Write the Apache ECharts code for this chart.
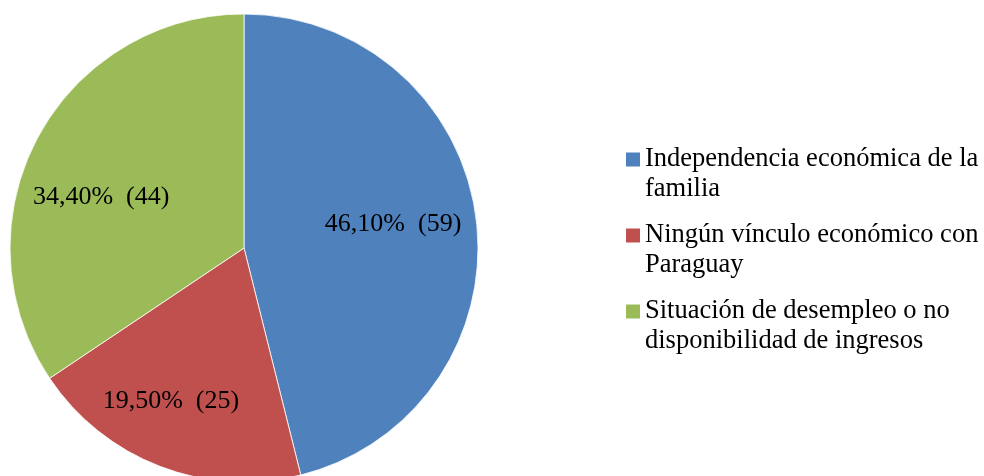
<!DOCTYPE html>
<html>
<head>
<meta charset="utf-8">
<script src="https://cdn.jsdelivr.net/npm/echarts@6/dist/echarts.min.js"></script>
<style>html,body{margin:0;padding:0;background:#fff;}#c{width:984px;height:476px;}</style>
</head>
<body>
<div id="c"></div>
<script>
var categories = ['Independencia económica de la familia', 'Ningún vínculo económico con Paraguay', 'Situación de desempleo o no disponibilidad de ingresos'];
var legendLines = [['Independencia económica de la', 'familia'], ['Ningún vínculo económico con', 'Paraguay'], ['Situación de desempleo o no', 'disponibilidad de ingresos']];
var percentages = [46.1, 19.5, 34.4];
var counts = [59, 25, 44];
var colors = ['#4F81BD', '#C0504D', '#9BBB59'];
var labelOffsets = [[30, -9], [-30, 41], [-37, 6]];

var FONT = '"Liberation Serif", "Times New Roman", serif';
var rich = {
  t: {fontFamily: FONT, fontSize: 26.5, color: '#000', lineHeight: 30, padding: [0, 0, 0, 5]},
  pad: {width: 14, height: 14}
};
colors.forEach(function (c, i) {
  rich['sq' + i] = {width: 14, height: 14, backgroundColor: c};
});

var chart = echarts.init(document.getElementById('c'), null, {renderer: 'canvas'});
chart.setOption({
  animation: false,
  legend: {
    orient: 'vertical',
    left: 621,
    top: 146,
    padding: 0,
    icon: 'none',
    itemWidth: 0,
    itemHeight: 12,
    itemGap: 19,
    selectedMode: false,
    data: categories,
    formatter: function (name) {
      var i = categories.indexOf(name);
      var l = legendLines[i];
      return '{sq' + i + '|}{t|' + l[0] + '}\n{pad|}{t|' + l[1] + '}';
    },
    textStyle: {rich: rich, fontFamily: FONT, fontSize: 26.5, color: '#000'}
  },
  series: [{
    type: 'pie',
    center: [244, 248],
    radius: 234,
    startAngle: 90,
    clockwise: true,
    color: colors,
    itemStyle: {borderColor: '#fff', borderWidth: 0.8},
    label: {
      position: 'inside',
      fontFamily: FONT,
      fontSize: 26,
      color: '#000',
      formatter: function (p) {
        return percentages[p.dataIndex].toFixed(2).replace('.', ',') + '%  (' + counts[p.dataIndex] + ')';
      }
    },
    labelLine: {show: false},
    labelLayout: function (p) {
      var o = labelOffsets[p.dataIndex];
      return {dx: o[0], dy: o[1]};
    },
    emphasis: {disabled: true},
    data: categories.map(function (c, i) { return {name: c, value: percentages[i]}; })
  }]
});
</script>
</body>
</html>
